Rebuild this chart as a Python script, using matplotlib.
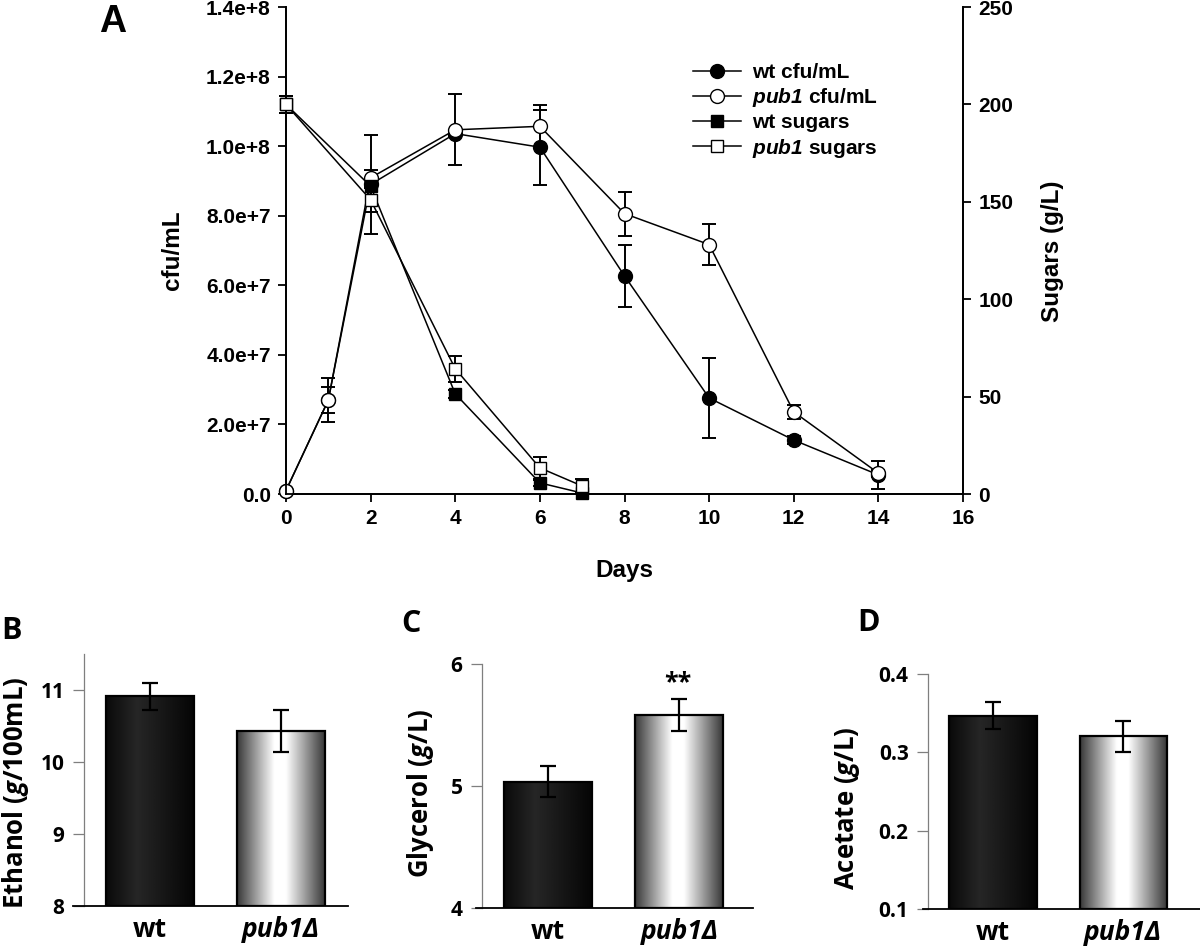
import numpy as np
import matplotlib
matplotlib.use("Agg")
from matplotlib import pyplot as plt
from matplotlib.ticker import FuncFormatter

plt.rcParams["mathtext.fontset"] = "custom"
plt.rcParams["mathtext.it"] = "Open Sans:italic:bold"
plt.rcParams["mathtext.bfit"] = "Liberation Sans:italic:bold"

# panel A data
days_cfu = [0, 1, 2, 4, 6, 8, 10, 12, 14]
wt_cfu = [1.0e6, 2.7e7, 8.9e7, 1.036e8, 9.97e7, 6.27e7, 2.76e7, 1.55e7, 5.5e6]
wt_cfu_err = [0, 0.37e7, 1.43e7, 0.1e7, 1.08e7, 0.89e7, 1.16e7, 0.12e7, 0.4e7]
pub1_cfu = [1.0e6, 2.7e7, 9.09e7, 1.047e8, 1.057e8, 8.06e7, 7.17e7, 2.36e7, 6.0e6]
pub1_cfu_err = [0, 0.63e7, 0.23e7, 1.02e7, 0.6e7, 0.63e7, 0.6e7, 0.2e7, 0.1e7]

days_sugar = [0, 2, 4, 6, 7]
wt_sugar = [200, 158, 51.4, 5.7, 0.5]
wt_sugar_err = [4.4, 1, 2, 1.5, 0.5]
pub1_sugar = [200, 151, 64.3, 13.4, 4.1]
pub1_sugar_err = [4.4, 6, 6.7, 5.5, 3.6]

# panels B-D data
genotypes = ["wt", "pub1Δ"]
ethanol = [10.91, 10.43]
ethanol_err = [0.19, 0.29]
glycerol = [5.036, 5.58]
glycerol_err = [0.125, 0.13]
acetate = [0.347, 0.3205]
acetate_err = [0.017, 0.02]

W, H = 1200, 952
fig = plt.figure(figsize=(W / 100, H / 100), dpi=100)

ARIAL = "Liberation Sans"
SANS = ["Open Sans", "DejaVu Sans"]


def px_rect(x0, y0, x1, y1):
    return [x0 / W, 1 - y1 / H, (x1 - x0) / W, (y1 - y0) / H]


def ftext(x, y, s, **kw):
    fig.text(x / W, 1 - y / H, s, ha="center", va="center", **kw)


# ---------------- panel A ----------------
ax = fig.add_axes(px_rect(286, 7, 963, 494))
ax2 = ax.twinx()

line_kw = dict(color="black", linewidth=1.1, ecolor="black", elinewidth=1.4,
               capsize=5, capthick=1.4, clip_on=False)
c1 = ax.errorbar(days_cfu, wt_cfu, yerr=wt_cfu_err, marker="o", markersize=10,
                 markerfacecolor="black", markeredgecolor="black", zorder=3, **line_kw)
c2 = ax.errorbar(days_cfu, pub1_cfu, yerr=pub1_cfu_err, marker="o", markersize=10,
                 markerfacecolor="white", markeredgecolor="black", zorder=4, **line_kw)
s1 = ax2.errorbar(days_sugar, wt_sugar, yerr=wt_sugar_err, marker="s", markersize=8.5,
                  markerfacecolor="black", markeredgecolor="black", zorder=3, **line_kw)
s2 = ax2.errorbar(days_sugar, pub1_sugar, yerr=pub1_sugar_err, marker="s", markersize=8.5,
                  markerfacecolor="white", markeredgecolor="black", zorder=4, **line_kw)

ax.set_xlim(0, 16)
ax.set_ylim(0, 1.4e8)
ax2.set_ylim(0, 250)
ax.set_xticks(range(0, 17, 2))
ax.set_yticks(np.arange(0, 1.41e8, 2e7))
ax2.set_yticks(range(0, 251, 50))
ax.yaxis.set_major_formatter(FuncFormatter(
    lambda v, p: "0.0" if v == 0 else f"{v:.1e}".replace("e+0", "e+")))

for a in (ax, ax2):
    a.spines["top"].set_visible(False)
    for sp in a.spines.values():
        sp.set_linewidth(1.3)
    a.tick_params(direction="out", length=6, width=1.3, labelsize=15, pad=5)
    for lab in a.get_xticklabels() + a.get_yticklabels():
        lab.set_fontfamily(ARIAL)
        lab.set_fontweight("bold")

ftext(173, 250, "cfu/mL", rotation=90, fontsize=17.5, fontweight="bold", family=ARIAL)
ftext(1052, 251, "Sugars (g/L)", rotation=90, fontsize=17.5, fontweight="bold", family=ARIAL)
ftext(624, 570, "Days", fontsize=17.5, fontweight="bold", family=ARIAL)
ftext(113, 22, "A", fontsize=27, fontweight="bold", family=ARIAL)

handles = [c1[0], c2[0], s1[0], s2[0]]
labels = ["wt cfu/mL", r"$\mathbfit{pub1}$ cfu/mL", "wt sugars", r"$\mathbfit{pub1}$ sugars"]
ax2.legend(handles, labels, loc="upper left", bbox_to_anchor=(693 / W, 1 - 63 / H),
           bbox_transform=fig.transFigure, frameon=False, borderpad=0, borderaxespad=0,
           handlelength=2.3, handletextpad=0.55, labelspacing=0.2,
           prop=dict(family=ARIAL, weight="bold", size=15))


# ---------------- panels B-D ----------------
def bar_panel(rect, values, errs, ylim, yticks, ticklabels, xmax, spine_start):
    a = fig.add_axes(rect)
    x = np.arange(len(genotypes))
    bars = a.bar(x, np.array(values) - ylim[0], bottom=ylim[0], width=0.67,
                 facecolor="none", edgecolor="black", linewidth=1.6, zorder=3)
    shades = [
        ([0, 0.35, 1], [0.04, 0.15, 0.02]),
        ([0, 0.42, 0.55, 1], [0.22, 1.0, 1.0, 0.2]),
    ]
    for patch, (stops, levels) in zip(bars, shades):
        grad = np.interp(np.linspace(0, 1, 256), stops, levels)[None, :]
        x0 = patch.get_x()
        a.imshow(grad, extent=[x0, x0 + patch.get_width(), ylim[0], patch.get_y() + patch.get_height()],
                 aspect="auto", cmap="gray", vmin=0, vmax=1, clip_path=patch, zorder=2)
    a.errorbar(x, values, yerr=errs, fmt="none", ecolor="black", elinewidth=1.6,
               capsize=5.5, capthick=1.6, zorder=4)
    a.set_xlim(-0.5, xmax)
    a.set_ylim(*ylim)
    a.set_yticks(yticks, ticklabels)
    a.set_xticks(x, genotypes)
    for s in ("top", "right"):
        a.spines[s].set_visible(False)
    a.spines["left"].set_color("#7f7f7f")
    a.spines["left"].set_linewidth(0.9)
    a.spines["bottom"].set_linewidth(1.3)
    a.spines["bottom"].set_bounds(spine_start, xmax)
    a.tick_params(axis="y", direction="out", length=8, width=0.9, color="#7f7f7f",
                  labelsize=15, pad=6)
    a.tick_params(axis="x", length=0, labelsize=19, pad=7)
    for lab in a.get_xticklabels() + a.get_yticklabels():
        lab.set_fontfamily(SANS)
        lab.set_fontweight("bold")
    a.get_xticklabels()[1].set_fontstyle("italic")
    return a


bar_panel(px_rect(84, 654, 348, 906), ethanol, ethanol_err, (8, 11.5),
          [8, 9, 10, 11], ["8", "9", "10", "11"], 1.51, -0.585)
bar_panel(px_rect(482, 664, 753, 908), glycerol, glycerol_err, (4, 6),
          [4, 5, 6], ["4", "5", "6"], 1.56, -0.545)
bar_panel(px_rect(928, 674, 1200, 909), acetate, acetate_err, (0.1, 0.4),
          [0.1, 0.2, 0.3, 0.4], ["0.1", "0.2", "0.3", "0.4"], 1.59, -0.54)

ftext(678, 683, "**", fontsize=18, fontweight="bold", family=SANS)

ftext(16, 793, r"Ethanol ($\mathit{g}$/100mL)", rotation=90, fontsize=18.5, fontweight="bold", family=SANS)
ftext(421, 793, r"Glycerol ($\mathit{g}$/L)", rotation=90, fontsize=18.5, fontweight="bold", family=SANS)
ftext(848, 808, r"Acetate ($\mathit{g}$/L)", rotation=90, fontsize=18.5, fontweight="bold", family=SANS)

ftext(12, 631, "B", fontsize=22, fontweight="bold", family=SANS)
ftext(411, 624, "C", fontsize=22, fontweight="bold", family=SANS)
ftext(869, 623, "D", fontsize=22, fontweight="bold", family=SANS)

fig.savefig("out.png", dpi=100)
